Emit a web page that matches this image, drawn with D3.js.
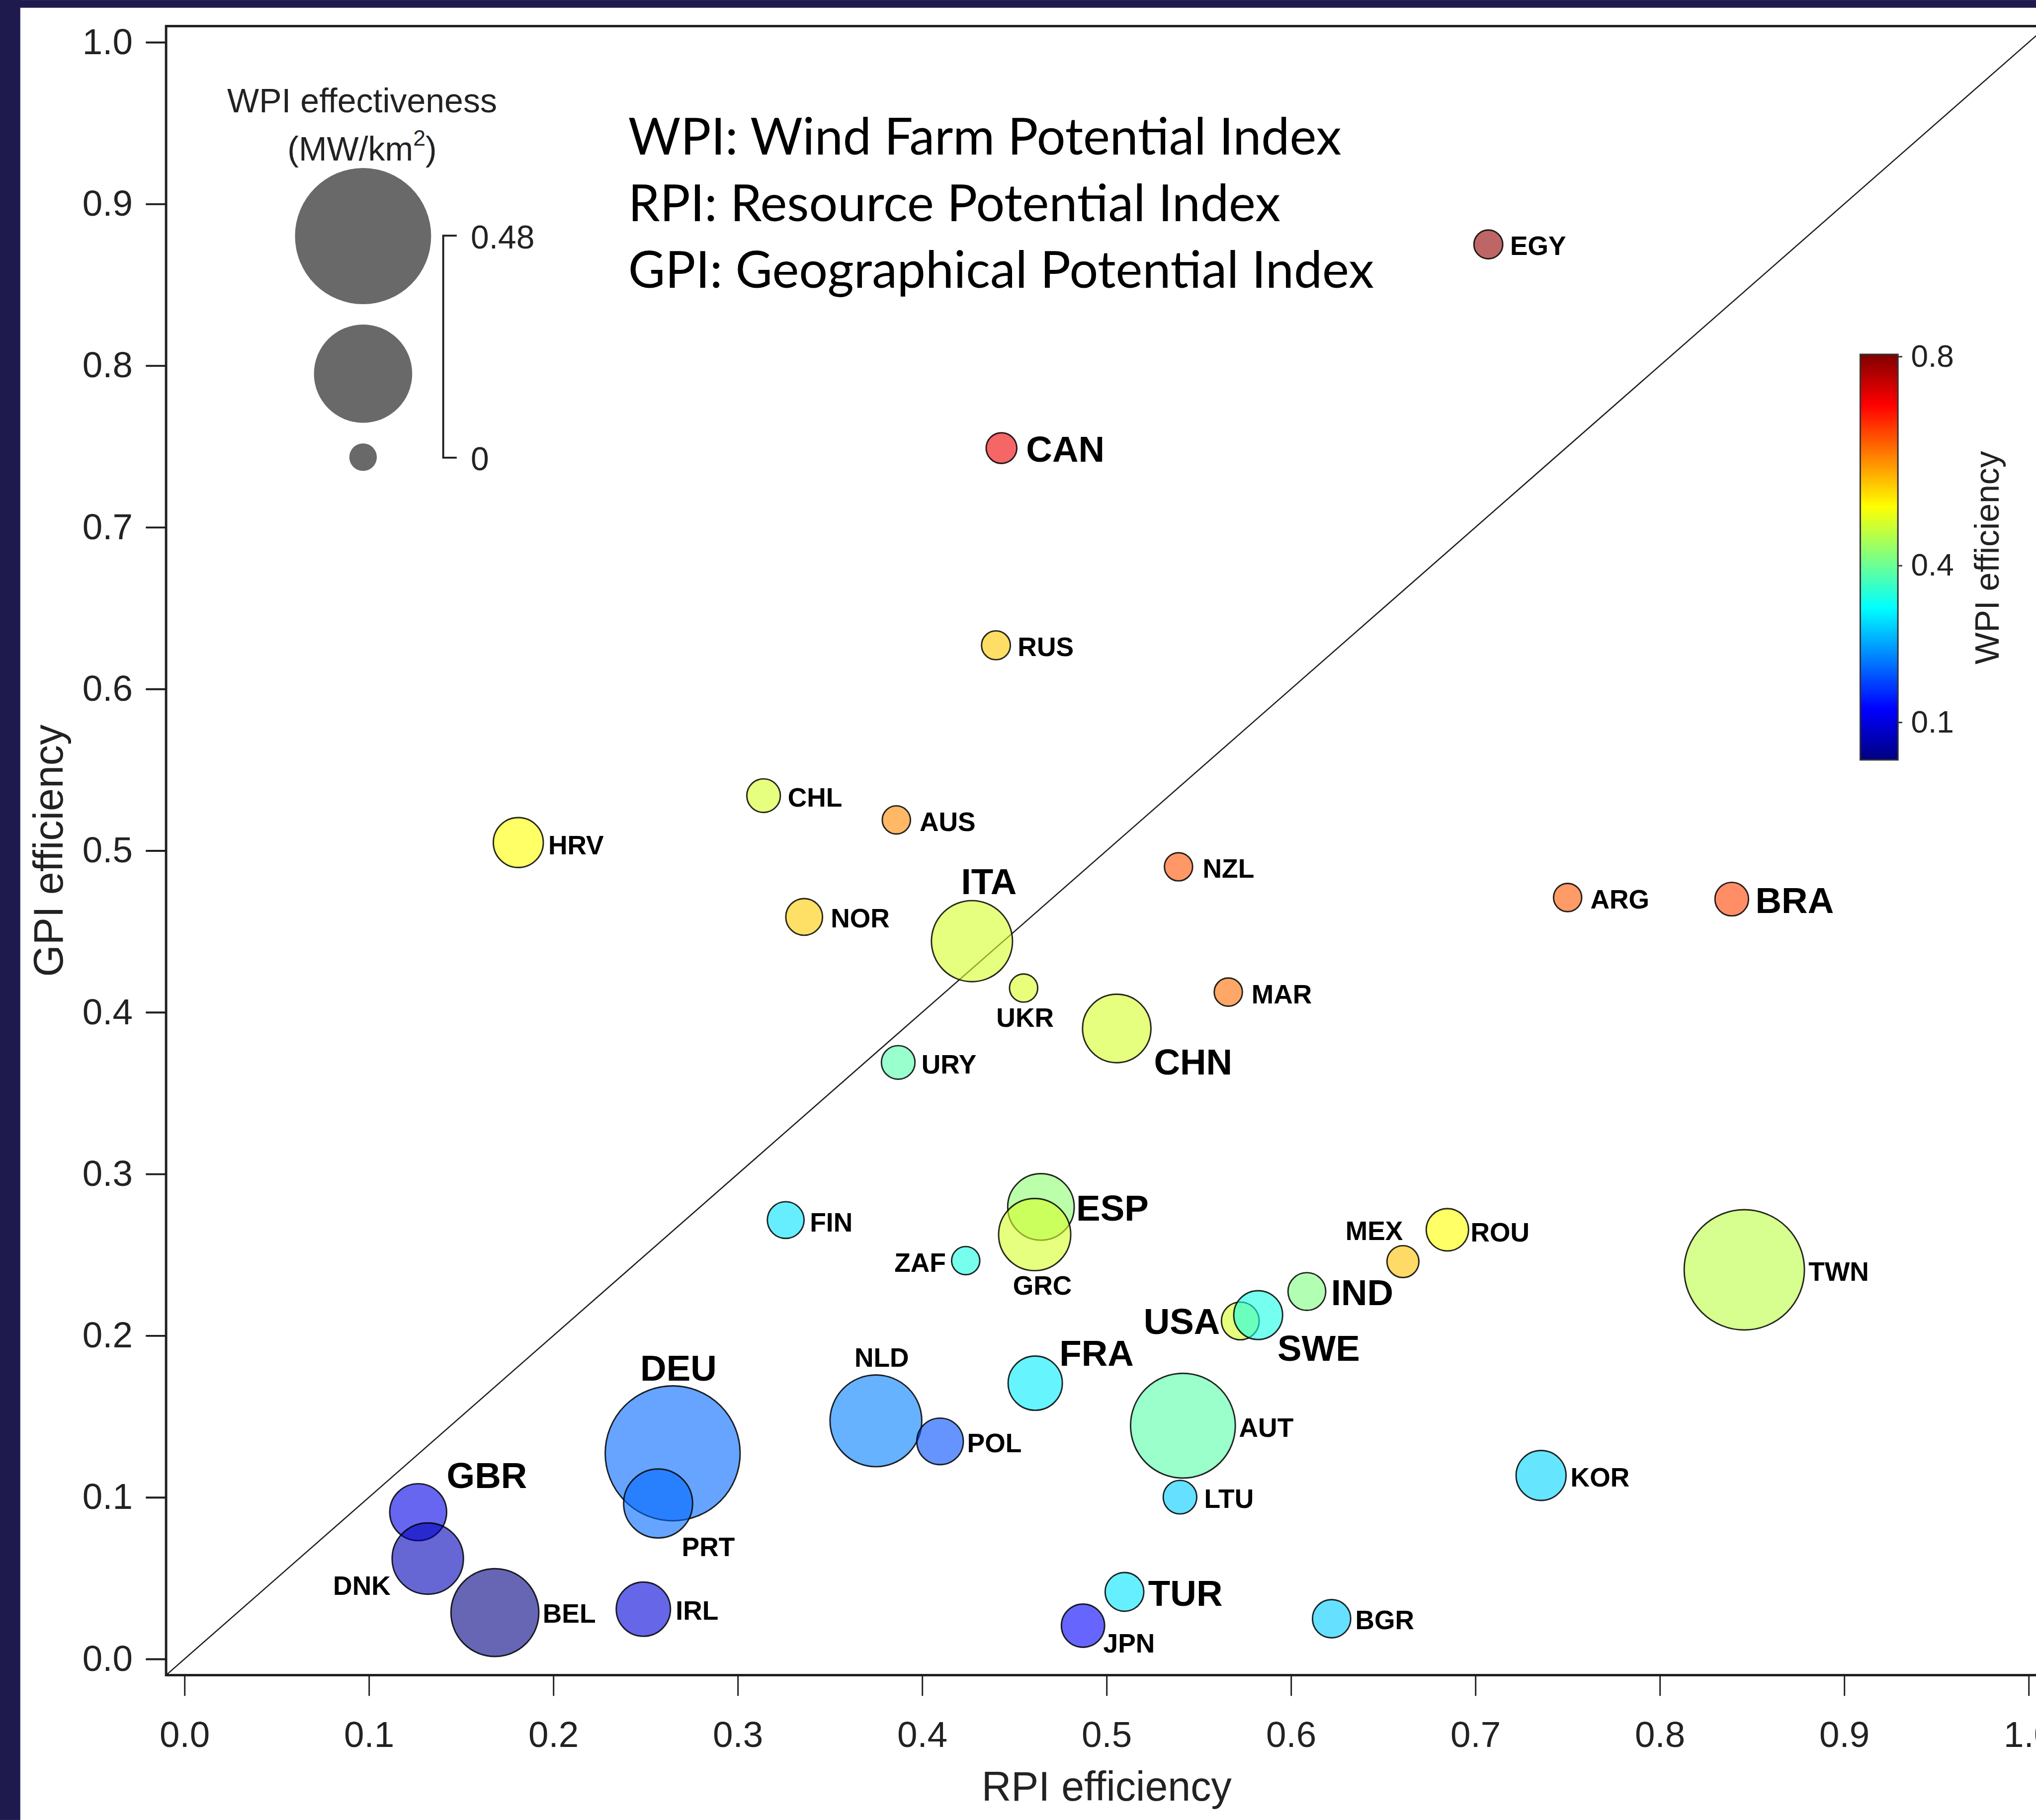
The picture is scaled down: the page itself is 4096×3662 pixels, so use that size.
<!DOCTYPE html>
<html>
<head>
<meta charset="utf-8">
<script src="https://cdn.jsdelivr.net/npm/d3@7"></script>
<style>
  html, body { margin: 0; padding: 0; background: #fff; }
  svg { display: block; }
</style>
</head>
<body>
<svg id="chart"></svg>
<script>
// ---- Data -------------------------------------------------------------
const countries = ["EGY","CAN","RUS","CHL","AUS","HRV","NOR","ITA","NZL","ARG",
                   "BRA","UKR","MAR","CHN","URY","FIN","ESP","GRC","ZAF","MEX",
                   "ROU","TWN","IND","USA","SWE","FRA","NLD","POL","AUT","DEU",
                   "PRT","GBR","KOR","LTU","DNK","BEL","IRL","TUR","JPN","BGR"];
const rpiEfficiency = [0.707,0.443,0.440,0.314,0.386,0.181,0.336,0.427,0.539,0.750,
                       0.839,0.455,0.566,0.5055,0.387,0.326,0.4644,0.461,0.4236,0.6607,
                       0.6848,0.8458,0.6086,0.5725,0.5822,0.4613,0.3749,0.4097,0.5414,0.2647,
                       0.2568,0.1267,0.7356,0.5398,0.1319,0.1683,0.2488,0.5097,0.4872,0.6220];
const gpiEfficiency = [0.875,0.749,0.627,0.534,0.519,0.505,0.459,0.444,0.490,0.471,
                       0.470,0.415,0.4125,0.390,0.369,0.2715,0.2796,0.2625,0.2464,0.2458,
                       0.2655,0.2407,0.2273,0.2091,0.2127,0.1706,0.1473,0.1346,0.1443,0.1272,
                       0.0962,0.0908,0.1135,0.1001,0.0621,0.0287,0.0308,0.0415,0.0206,0.0249];
// WPI effectiveness (MW/km²) -> bubble size
const wpiEffectiveness = [0.002,0.005,0.002,0.010,0.001,0.047,0.016,0.157,0.001,0.001,
                          0.010,0.001,0.001,0.106,0.010,0.016,0.099,0.120,0.001,0.007,
                          0.028,0.370,0.018,0.018,0.044,0.059,0.207,0.038,0.276,0.471,
                          0.108,0.067,0.047,0.010,0.117,0.188,0.059,0.020,0.030,0.019];
// WPI efficiency -> bubble colour
const wpiEfficiency = [0.790,0.720,0.555,0.482,0.602,0.513,0.552,0.482,0.643,0.640,
                       0.657,0.485,0.624,0.482,0.383,0.297,0.427,0.482,0.340,0.560,
                       0.513,0.461,0.416,0.482,0.338,0.305,0.222,0.183,0.385,0.203,
                       0.205,0.106,0.286,0.280,0.071,0.030,0.096,0.300,0.125,0.280];
// countries labelled in the larger type
const majorMarkets = ["CAN","ITA","BRA","CHN","ESP","IND","USA","SWE","FRA","DEU","GBR","TUR"];

const axisTicks = [0.0,0.1,0.2,0.3,0.4,0.5,0.6,0.7,0.8,0.9,1.0];
const colorTicks = [0.1,0.4,0.8];
const sizeLegendValues = [0.48,0.24,0];
const sizeLegendLabels = ["0.48","0"];
const definitions = ["WPI: Wind Farm Potential Index",
                     "RPI: Resource Potential Index",
                     "GPI: Geographical Potential Index"];

// ---- Label placement (anchor, dx, dy from bubble centre) ----------------
const labelPlacement = {
  EGY:["start",45,22],  CAN:["start",51,28],  RUS:["start",45,22],  CHL:["start",50,23],
  AUS:["start",48,23],  HRV:["start",62,24],  NOR:["start",55,22],  ITA:["middle",35,-97],
  NZL:["start",50,23],  ARG:["start",47,23],  BRA:["start",49,29],  UKR:["middle",3,80],
  MAR:["start",48,24],  CHN:["start",77,95],  URY:["start",48,23],  FIN:["start",50,24],
  ESP:["start",73,28],  GRC:["middle",16,124],ZAF:["end",-41,23],   MEX:["end",0,-45],
  ROU:["start",48,24],  TWN:["start",133,23], IND:["start",50,28],  USA:["end",-42,27],
  SWE:["start",40,95],  FRA:["start",50,-36], NLD:["middle",12,-112],POL:["start",56,22],
  AUT:["start",116,23], DEU:["middle",12,-151],PRT:["start",49,109],GBR:["start",59,-50],
  KOR:["start",61,23],  LTU:["start",50,22],  DNK:["end",-77,75],   BEL:["start",99,21],
  IRL:["start",67,22],  TUR:["start",49,29],  JPN:["start",42,56],  BGR:["start",49,22]
};

// ---- Canvas -------------------------------------------------------------
const W = 4217, H = 3770;
const svg = d3.select("#chart")
  .attr("width", 4096).attr("height", 3662)
  .attr("viewBox", `0 0 ${W} ${H}`);

const AXIS_FONT = "'Liberation Sans', Arial, Helvetica, sans-serif";
const ink = "#1e1e1e";

svg.append("rect").attr("width", W).attr("height", H).attr("fill", "#fff");
// dark frame strips
svg.append("rect").attr("x", 0).attr("y", 0).attr("width", W).attr("height", 16).attr("fill", "#1f1a4e");
svg.append("rect").attr("x", 0).attr("y", 0).attr("width", 42).attr("height", H).attr("fill", "#1f1a4e");

// ---- Scales -------------------------------------------------------------
const x = d3.scaleLinear().domain([-0.01, 1.01]).range([344, 4240]);
const y = d3.scaleLinear().domain([-0.01, 1.01]).range([3470, 54]);
const r = d3.scaleRadial().domain([0, 0.48]).range([28.5, 141]);

// jet colour map over the colour-bar range
const cMin = 0.028, cMax = 0.804;
const jetStops = [0, 0.125, 0.375, 0.625, 0.875, 1];
const jetColors = ["#000080", "#0000ff", "#00ffff", "#ffff00", "#ff0000", "#800000"];
const color = d3.scaleLinear()
  .domain(jetStops.map(t => cMin + t * (cMax - cMin)))
  .range(jetColors)
  .clamp(true);

// ---- Plot frame & axes ---------------------------------------------------
svg.append("clipPath").attr("id", "plotClip")
  .append("rect").attr("x", 344).attr("y", 54).attr("width", 4240 - 344).attr("height", 3470 - 54);

const yAxis = svg.append("g")
  .attr("transform", "translate(344,0)")
  .call(d3.axisLeft(y).tickValues(axisTicks).tickFormat(d3.format(".1f"))
        .tickSize(42).tickPadding(27));
yAxis.select(".domain").remove();
yAxis.selectAll("line").attr("stroke", ink).attr("stroke-width", 4);
yAxis.selectAll("text").attr("font-family", AXIS_FONT).attr("font-size", 75).attr("fill", "#222");

const xAxis = svg.append("g")
  .attr("transform", "translate(0,3470)")
  .call(d3.axisBottom(x).tickValues(axisTicks).tickFormat(d3.format(".1f"))
        .tickSize(43).tickPadding(52));
xAxis.select(".domain").remove();
xAxis.selectAll("line").attr("stroke", ink).attr("stroke-width", 3);
xAxis.selectAll("text").attr("font-family", AXIS_FONT).attr("font-size", 75).attr("fill", "#222");

// box
svg.append("rect")
  .attr("x", 344).attr("y", 54).attr("width", 4240 - 344).attr("height", 3470 - 54)
  .attr("fill", "none").attr("stroke", ink).attr("stroke-width", 5);

// axis titles
svg.append("text")
  .attr("x", x(0.5)).attr("y", 3730)
  .attr("text-anchor", "middle")
  .attr("font-family", AXIS_FONT).attr("font-size", 85).attr("fill", "#222")
  .text("RPI efficiency");
svg.append("text")
  .attr("transform", `translate(130,${y(0.5)}) rotate(-90)`)
  .attr("text-anchor", "middle")
  .attr("font-family", AXIS_FONT).attr("font-size", 85).attr("fill", "#222")
  .text("GPI efficiency");

// ---- 1:1 line -------------------------------------------------------------
const plot = svg.append("g").attr("clip-path", "url(#plotClip)");
plot.append("line")
  .attr("x1", x(-0.01)).attr("y1", y(-0.01))
  .attr("x2", x(1.02)).attr("y2", y(1.02))
  .attr("stroke", ink).attr("stroke-width", 2.6);

// ---- Bubbles -------------------------------------------------------------
const rows = countries.map((c, i) => ({
  code: c, rpi: rpiEfficiency[i], gpi: gpiEfficiency[i],
  size: wpiEffectiveness[i], eff: wpiEfficiency[i]
}));

plot.selectAll("circle.bubble")
  .data(rows)
  .join("circle")
  .attr("class", "bubble")
  .attr("cx", d => x(d.rpi))
  .attr("cy", d => y(d.gpi))
  .attr("r", d => r(d.size))
  .attr("fill", d => color(d.eff))
  .attr("fill-opacity", 0.6)
  .attr("stroke", "#000")
  .attr("stroke-opacity", 0.85)
  .attr("stroke-width", 3);

svg.append("g").selectAll("text")
  .data(rows)
  .join("text")
  .attr("x", d => x(d.rpi) + labelPlacement[d.code][1])
  .attr("y", d => y(d.gpi) + labelPlacement[d.code][2])
  .attr("text-anchor", d => labelPlacement[d.code][0])
  .attr("font-family", AXIS_FONT)
  .attr("font-weight", "bold")
  .attr("font-size", d => majorMarkets.includes(d.code) ? 75 : 55)
  .attr("fill", "#000")
  .text(d => d.code);

// ---- Definitions block ----------------------------------------------------
svg.append("g").selectAll("text")
  .data(definitions)
  .join("text")
  .attr("x", 1301)
  .attr("y", (d, i) => 320 + i * 138)
  .attr("font-family", "Lato, 'Open Sans', sans-serif")
  .attr("font-size", 105)
  .attr("fill", "#000")
  .text(d => d);

// ---- Size legend ----------------------------------------------------------
const sizeLegend = svg.append("g");
sizeLegend.append("text")
  .attr("x", 750).attr("y", 233).attr("text-anchor", "middle")
  .attr("font-family", AXIS_FONT).attr("font-size", 70).attr("fill", "#222")
  .text("WPI effectiveness");
const unit = sizeLegend.append("text")
  .attr("x", 750).attr("y", 332).attr("text-anchor", "middle")
  .attr("font-family", AXIS_FONT).attr("font-size", 70).attr("fill", "#222");
unit.append("tspan").text("(MW/km");
unit.append("tspan").attr("font-size", 46).attr("dy", -30).text("2");
unit.append("tspan").attr("dy", 30).text(")");

const legendY = [489, 774, 947];
sizeLegend.selectAll("circle")
  .data(sizeLegendValues)
  .join("circle")
  .attr("cx", 752)
  .attr("cy", (d, i) => legendY[i])
  .attr("r", d => r(d))
  .attr("fill", "#696969");

sizeLegend.append("path")
  .attr("d", "M946,488 H918 V948 H946")
  .attr("fill", "none").attr("stroke", ink).attr("stroke-width", 4);
sizeLegend.selectAll("text.lab")
  .data(sizeLegendLabels)
  .join("text")
  .attr("class", "lab")
  .attr("x", 975)
  .attr("y", (d, i) => [491, 950][i])
  .attr("dy", "0.35em")
  .attr("font-family", AXIS_FONT).attr("font-size", 68).attr("fill", "#222")
  .text(d => d);

// ---- Colour bar -----------------------------------------------------------
const cbX = 3853, cbW = 78, cbTop = 734, cbBottom = 1574;
const cy = d3.scaleLinear().domain([cMin, cMax]).range([cbBottom, cbTop]);
const grad = svg.append("defs").append("linearGradient")
  .attr("id", "jetGrad").attr("x1", 0).attr("y1", 1).attr("x2", 0).attr("y2", 0);
grad.selectAll("stop")
  .data(jetStops)
  .join("stop")
  .attr("offset", d => d)
  .attr("stop-color", (d, i) => jetColors[i]);

svg.append("rect")
  .attr("x", cbX).attr("y", cbTop).attr("width", cbW).attr("height", cbBottom - cbTop)
  .attr("fill", "url(#jetGrad)").attr("stroke", "#333").attr("stroke-width", 3);

const cAxis = svg.append("g")
  .attr("transform", `translate(${cbX + cbW},0)`)
  .call(d3.axisRight(cy).tickValues(colorTicks).tickFormat(d3.format(".1f"))
        .tickSize(9).tickPadding(18));
cAxis.select(".domain").remove();
cAxis.selectAll("line").attr("stroke", "#333").attr("stroke-width", 3);
cAxis.selectAll("text").attr("font-family", AXIS_FONT).attr("font-size", 64).attr("fill", "#222");

svg.append("text")
  .attr("transform", `translate(4140,1155) rotate(-90)`)
  .attr("text-anchor", "middle")
  .attr("font-family", AXIS_FONT).attr("font-size", 70).attr("fill", "#222")
  .text("WPI efficiency");
</script>
</body>
</html>
